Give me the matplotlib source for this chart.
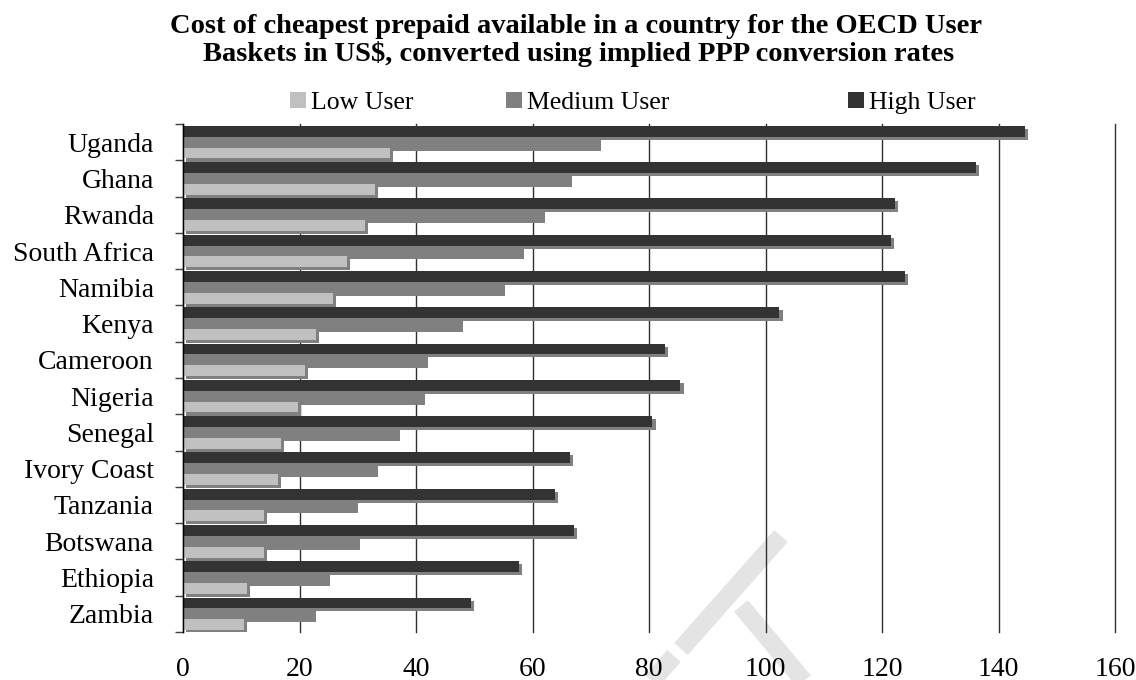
import matplotlib
matplotlib.use("Agg")
import matplotlib.pyplot as plt
import matplotlib.patheffects as pe
from matplotlib.lines import Line2D
from matplotlib.patches import Rectangle
import numpy as np

plt.rcParams['font.family'] = ['Liberation Serif', 'DejaVu Serif']

# countries, top to bottom
countries = ["Uganda", "Ghana", "Rwanda", "South Africa", "Namibia", "Kenya",
             "Cameroon", "Nigeria", "Senegal", "Ivory Coast", "Tanzania",
             "Botswana", "Ethiopia", "Zambia"]

# basket cost in US$ (PPP)
low_user = [35.5, 32.9, 31.2, 28.1, 25.7, 22.8, 20.9, 19.7, 16.8, 16.3,
            13.9, 13.9, 11.0, 10.5]
medium_user = [71.3, 66.3, 61.7, 58.1, 54.8, 47.6, 41.5, 41.0, 36.8, 32.9,
               29.5, 29.8, 24.7, 22.3]
high_user = [144.6, 136.2, 122.2, 121.5, 123.9, 102.4, 82.7, 85.4, 80.6,
             66.5, 63.9, 67.2, 57.6, 49.4]

series_names = ["Low User", "Medium User", "High User"]
colors = ["#c0c0c0", "#808080", "#333333"]
x_ticks = [0, 20, 40, 60, 80, 100, 120, 140, 160]

W, H = 1136, 680
fig = plt.figure(figsize=(W / 100, H / 100), dpi=100)


def fx(px):
    return px / W


def fy(py):
    return 1 - py / H


ax = fig.add_axes([fx(183), fy(632), fx(1115) - fx(183), fy(124) - fy(632)])
ax.patch.set_facecolor("none")

y = np.arange(len(countries))
h = 0.3
shadow = [pe.SimplePatchShadow(offset=(2.2, -2.2), shadow_rgbFace="#808080",
                               alpha=1.0), pe.Normal()]

# draw high first so the lower bars sit on top of the shadows above them
for vals, off, col in [(high_user, -h, colors[2]),
                       (medium_user, 0, colors[1]),
                       (low_user, h, colors[0])]:
    bars = ax.barh(y + off, vals, height=h, color=col, linewidth=0)
    for b in bars:
        b.set_path_effects(shadow)

ax.set_xlim(0, 160)
ax.set_ylim(len(countries) - 0.5, -0.5)
ax.set_xticks(x_ticks)
ax.set_xticklabels([str(t) for t in x_ticks], fontsize=20)
ax.tick_params(axis="x", length=0, pad=18)

ax.set_yticks(np.arange(len(countries) + 1) - 0.5)
ax.set_yticklabels([])
ax.set_yticks(y, minor=True)
ax.set_yticklabels(countries, minor=True, fontsize=20)
ax.tick_params(axis="y", which="major", length=6, width=1, color="#404040",
               direction="out")
ax.tick_params(axis="y", which="minor", length=0, pad=21)

ax.grid(axis="x", color="#303030", linewidth=1)
for gl in ax.xaxis.get_gridlines():
    gl.set_clip_on(False)
ax.set_axisbelow(True)
for s in ["top", "right", "bottom"]:
    ax.spines[s].set_visible(False)
ax.spines["left"].set_color("black")
ax.spines["left"].set_linewidth(1)

# title
fig.text(fx(576), fy(33), "Cost of cheapest prepaid available in a country for the OECD User",
         ha="center", va="baseline", fontsize=20.5, fontweight="bold")
fig.text(fx(579), fy(61), "Baskets in US$, converted using implied PPP conversion rates",
         ha="center", va="baseline", fontsize=20.5, fontweight="bold")

# legend row
legend_x = [290, 506, 848]
for name, col, lx in zip(series_names, colors, legend_x):
    fig.add_artist(Rectangle((fx(lx), fy(108)), fx(16), fy(92) - fy(108),
                             transform=fig.transFigure, color=col, lw=0))
    fig.text(fx(lx + 21), fy(109), name, ha="left", va="baseline", fontsize=18.5)

# faint watermark strokes behind the plot
wm = dict(color="#e4e4e4", linewidth=13, solid_capstyle="butt", zorder=-1,
          transform=fig.transFigure)
fig.add_artist(Line2D([fx(615), fx(674)], [fy(723), fy(656)], **wm))
fig.add_artist(Line2D([fx(681), fx(781)], [fy(649), fy(536)], **wm))
fig.add_artist(Line2D([fx(741), fx(839)], [fy(606), fy(723)], **wm))

fig.savefig("out.png", dpi=100)
